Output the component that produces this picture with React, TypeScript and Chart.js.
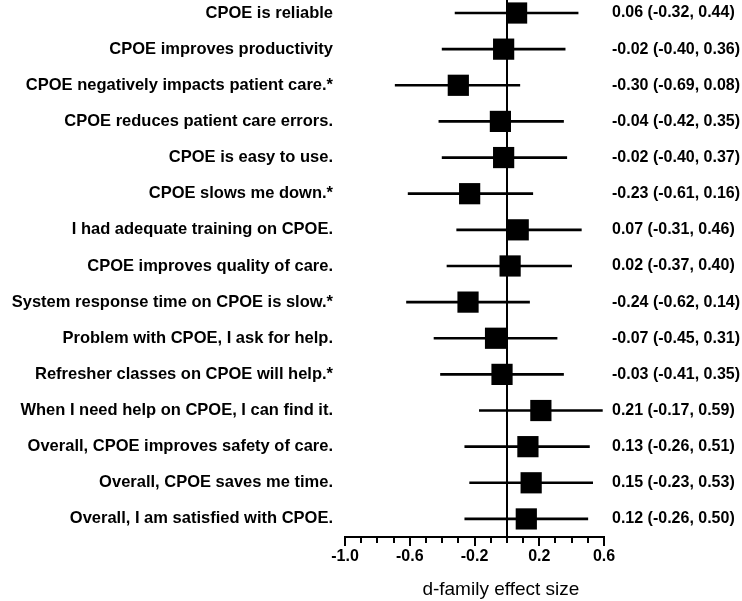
import React, { useEffect, useRef } from 'react';
import { Chart, registerables } from 'chart.js';

Chart.register(...registerables);

const items = [
  'CPOE is reliable',
  'CPOE improves productivity',
  'CPOE negatively impacts patient care.*',
  'CPOE reduces patient care errors.',
  'CPOE is easy to use.',
  'CPOE slows me down.*',
  'I had adequate training on CPOE.',
  'CPOE improves quality of care.',
  'System response time on CPOE is slow.*',
  'Problem with CPOE, I ask for help.',
  'Refresher classes on CPOE will help.*',
  'When I need help on CPOE, I can find it.',
  'Overall, CPOE improves safety of care.',
  'Overall, CPOE saves me time.',
  'Overall, I am satisfied with CPOE.',
];

const estimates = [0.06, -0.02, -0.3, -0.04, -0.02, -0.23, 0.07, 0.02, -0.24, -0.07, -0.03, 0.21, 0.13, 0.15, 0.12];
const lower = [-0.32, -0.4, -0.69, -0.42, -0.4, -0.61, -0.31, -0.37, -0.62, -0.45, -0.41, -0.17, -0.26, -0.23, -0.26];
const upper = [0.44, 0.36, 0.08, 0.35, 0.37, 0.16, 0.46, 0.4, 0.14, 0.31, 0.35, 0.59, 0.51, 0.53, 0.5];

const xTickLabels = ['-1.0', '-0.6', '-0.2', '0.2', '0.6'];
const xAxisTitle = 'd-family effect size';

const fmt = (v: number) => v.toFixed(2);
const ciLabels = estimates.map((e, i) => `${fmt(e)} (${fmt(lower[i])}, ${fmt(upper[i])})`);

const FONT = '"Liberation Sans", Arial, Helvetica, sans-serif';
const Y_MIN = -0.36;
const Y_MAX = 14.5;

const rowTicks = (scale: any) => {
  scale.ticks = items.map((_, i) => ({ value: i }));
};
const zeroPad = (scale: any) => {
  scale.paddingTop = 0;
  scale.paddingBottom = 0;
  scale.paddingLeft = 0;
  scale.paddingRight = 0;
};

const axisDecor = {
  id: 'axisDecor',
  afterDraw(chart: any) {
    const { ctx, chartArea } = chart;
    const x = chart.scales.x;
    ctx.save();
    ctx.strokeStyle = '#000';
    ctx.lineWidth = 2;
    x.ticks.forEach((t: any) => {
      const px = Math.round(x.getPixelForValue(t.value));
      const major = xTickLabels.includes(Number(t.value).toFixed(1));
      ctx.beginPath();
      ctx.moveTo(px, chartArea.bottom);
      ctx.lineTo(px, chartArea.bottom + (major ? 9 : 6));
      ctx.stroke();
    });
    ctx.font = `19px ${FONT}`;
    ctx.fillStyle = '#000';
    ctx.textAlign = 'center';
    ctx.textBaseline = 'alphabetic';
    ctx.fillText(xAxisTitle, x.getPixelForValue(0) - 6, x.bottom - 6);
    ctx.restore();
  },
};

export default function App() {
  const canvasRef = useRef<HTMLCanvasElement | null>(null);

  useEffect(() => {
    if (!canvasRef.current) return;
    const chart = new Chart(canvasRef.current, {
      type: 'scatter',
      data: {
        datasets: [
          {
            type: 'bar',
            indexAxis: 'y',
            data: items.map((_, i) => ({ y: i, x: [lower[i], upper[i]] })),
            backgroundColor: '#000',
            borderWidth: 0,
            barThickness: 2,
            xAxisID: 'x',
            yAxisID: 'y',
            order: 2,
          } as any,
          {
            type: 'scatter',
            data: items.map((_, i) => ({ x: estimates[i], y: i })),
            pointStyle: 'rect',
            pointRadius: 15,
            pointHoverRadius: 15,
            backgroundColor: '#000',
            borderColor: '#000',
            borderWidth: 0,
            showLine: false,
            clip: false,
            xAxisID: 'x',
            yAxisID: 'y',
            order: 1,
          } as any,
        ],
      },
      options: {
        animation: false,
        responsive: true,
        maintainAspectRatio: false,
        events: [],
        layout: { padding: 0, autoPadding: false },
        plugins: {
          legend: { display: false },
          tooltip: { enabled: false },
          title: { display: false },
        },
        scales: {
          x: {
            type: 'linear',
            position: 'bottom',
            min: -1,
            max: 0.6,
            offset: false,
            grid: {
              display: true,
              drawOnChartArea: true,
              drawTicks: false,
              offset: false,
              color: (c: any) => (c.tick && Math.abs(c.tick.value) < 1e-9 ? '#000' : 'rgba(0,0,0,0)'),
              lineWidth: 2,
            },
            border: { display: true, color: '#000', width: 2 },
            ticks: {
              stepSize: 0.1,
              autoSkip: false,
              maxRotation: 0,
              minRotation: 0,
              color: '#000',
              padding: 10,
              font: { family: FONT, size: 16, weight: 'bold' },
              callback: (v: any) => {
                const s = Number(v).toFixed(1);
                return xTickLabels.includes(s) ? s : '';
              },
            },
            afterFit: (s: any) => {
              s.height = 64;
              zeroPad(s);
            },
          },
          y: {
            type: 'linear',
            position: 'left',
            min: Y_MIN,
            max: Y_MAX,
            reverse: true,
            offset: false,
            grid: { display: false, drawTicks: false, offset: false },
            border: { display: false },
            afterBuildTicks: rowTicks,
            ticks: {
              autoSkip: false,
              color: '#000',
              padding: 12,
              font: { family: FONT, size: 16.5, weight: 'bold' },
              callback: (v: any) => items[v] ?? '',
            },
            afterFit: (s: any) => {
              s.width = 345;
              zeroPad(s);
            },
          },
          y2: {
            type: 'linear',
            axis: 'y',
            position: 'right',
            min: Y_MIN,
            max: Y_MAX,
            reverse: true,
            offset: false,
            grid: { display: false, drawTicks: false, offset: false },
            border: { display: false },
            afterBuildTicks: rowTicks,
            ticks: {
              autoSkip: false,
              color: '#000',
              padding: 8,
              font: { family: FONT, size: 16, weight: 'bold' },
              callback: (v: any) => ciLabels[v] ?? '',
            },
            afterFit: (s: any) => {
              s.width = 138;
              zeroPad(s);
            },
          },
        } as any,
      },
      plugins: [axisDecor],
    } as any);
    return () => chart.destroy();
  }, []);

  return (
    <div style={{ position: 'absolute', left: 0, top: 0, width: 742, height: 601, background: '#fff' }}>
      <canvas ref={canvasRef} />
    </div>
  );
}
